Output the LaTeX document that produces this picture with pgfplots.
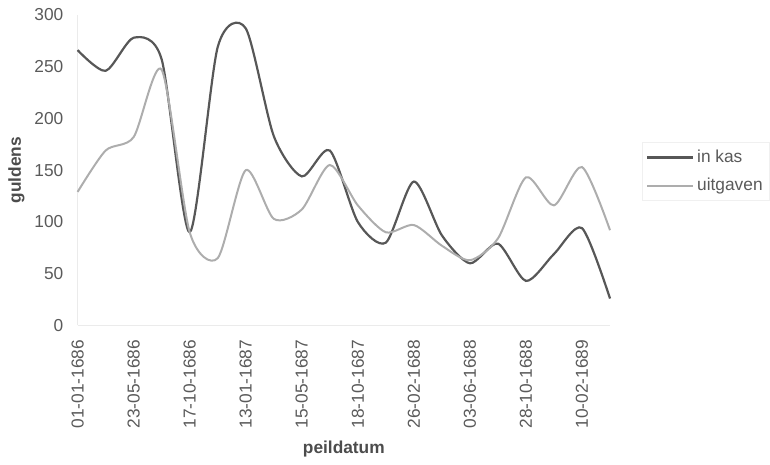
\documentclass[border=0pt]{standalone}
\usepackage{pgfplots}
\pgfplotsset{compat=1.18}
\usepackage{fontspec}
\setmainfont{Liberation Sans}

\definecolor{kas}{HTML}{575757}
\definecolor{uit}{HTML}{ADADAD}
\definecolor{txt}{HTML}{5A5A5A}

% kasstand en uitgaven per peildatum (guldens)
\pgfplotstableread{
idx kas uitgaven
0  266 129
1  246 169
2  278 182
3  257 247
4  90  90
5  269 65
6  287 150
7  183 103
8  144 112
9  169 155
10 100 116
11 80  90
12 139 97
13 87  77
14 60  63
15 79  84
16 43  143
17 69  116
18 94  153
19 26  92
}\peil

\begin{document}
\begin{tikzpicture}
\begin{axis}[
  scale only axis,
  width=267.5pt, height=156pt,
  xmin=0, xmax=19, ymin=0, ymax=300,
  clip=false,
  xtick={0,2,...,18},
  xticklabels={01-01-1686,23-05-1686,17-10-1686,13-01-1687,15-05-1687,
    18-10-1687,26-02-1688,03-06-1688,28-10-1688,10-02-1689},
  ytick={0,50,...,300},
  axis x line*=bottom, axis y line*=left,
  axis line style={black!8},
  major tick length=0pt,
  /pgf/number format/assume math mode=true,
  tick label style={font=\fontsize{8.7}{10}\selectfont, text=txt},
  yticklabel style={anchor=east, inner sep=0pt, xshift=-7pt},
  xticklabel style={rotate=90, anchor=east, inner sep=0pt, xshift=-7pt},
  xlabel={peildatum}, ylabel={guldens},
  label style={font=\bfseries\fontsize{8.7}{10}\selectfont, text=txt!85!black},
  xlabel style={at={([yshift=-64.5pt]axis description cs:0.5,0)}, anchor=base},
  ylabel style={at={([xshift=-28.5pt]axis description cs:0,0.5)}, anchor=base},
  legend style={at={(1.0598,0.5897)}, anchor=north west, draw=black!6,
    font=\fontsize{8.7}{10}\selectfont, text=txt,
    inner xsep=2pt, inner ysep=1.5pt, row sep=2.5pt,
    nodes={inner xsep=1.5pt}},
  legend cell align=left,
  legend image code/.code={\draw[#1] (0pt,0pt) -- (23pt,0pt);},
]
\coordinate (O) at (rel axis cs:0,0);
\addplot[kas, line width=1.1pt, smooth, tension=0.45, mark=none]
  table[x=idx, y=kas] {\peil};
\addlegendentry{in kas}
\addplot[uit, line width=1pt, smooth, tension=0.45, mark=none]
  table[x=idx, y=uitgaven] {\peil};
\addlegendentry{uitgaven}
\end{axis}
\path ([shift={(-39pt,-67pt)}]O) rectangle ([shift={(346pt,163.5pt)}]O);
\end{tikzpicture}
\end{document}
